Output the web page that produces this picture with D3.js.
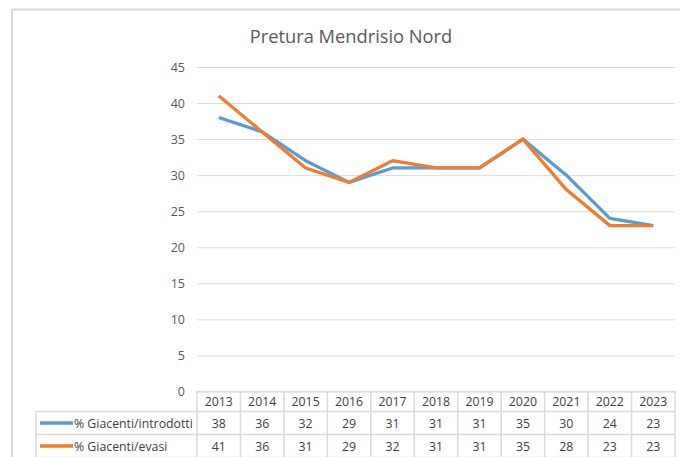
<!DOCTYPE html>
<html>
<head>
<meta charset="utf-8">
<script src="https://cdn.jsdelivr.net/npm/d3@7"></script>
<style>
  body { margin: 0; background: #fff; }
  svg { display: block; font-family: "Open Sans", sans-serif; }
</style>
</head>
<body>
<div id="chart"></div>
<script>
var years = [2013, 2014, 2015, 2016, 2017, 2018, 2019, 2020, 2021, 2022, 2023];
var introdotti = [38, 36, 32, 29, 31, 31, 31, 35, 30, 24, 23];
var evasi = [41, 36, 31, 29, 32, 31, 31, 35, 28, 23, 23];
var yTicks = [0, 5, 10, 15, 20, 25, 30, 35, 40, 45];

var series = [
  {name: "% Giacenti/introdotti", values: introdotti, color: "#5b9bd5"},
  {name: "% Giacenti/evasi", values: evasi, color: "#ed7d31"}
];

var width = 680, height = 457;
var plotLeft = 197, plotRight = 675, plotTop = 67, plotBottom = 391.5;
var rowH = [20, 23, 23];

var svg = d3.select("#chart").append("svg")
    .attr("width", width)
    .attr("height", height);

// chart frame (right and bottom edges fall outside the picture)
svg.append("rect")
  .attr("x", 12).attr("y", 9.5)
  .attr("width", 800).attr("height", 600)
  .attr("fill", "#fff")
  .attr("stroke", "#d9d9d9")
  .attr("stroke-width", 2);

svg.append("text")
  .attr("x", 351).attr("y", 43)
  .attr("text-anchor", "middle")
  .attr("fill", "#595959")
  .style("font-size", "18.3px")
  .text("Pretura Mendrisio Nord");

var x = d3.scaleBand().domain(years).range([plotLeft, plotRight]).padding(0);
var y = d3.scaleLinear().domain([0, 45]).range([plotBottom, plotTop]);

var yAxis = d3.axisLeft(y).tickValues(yTicks).tickSize(-(plotRight - plotLeft)).tickPadding(12);

var gy = svg.append("g")
  .attr("transform", "translate(" + plotLeft + ",0)")
  .call(yAxis);
gy.select(".domain").remove();
gy.selectAll(".tick line").attr("stroke", "#d9d9d9").attr("stroke-width", 1);
gy.selectAll(".tick text")
  .attr("fill", "#595959")
  .style("font-size", "12.5px")
  .style("font-family", "Open Sans, sans-serif");

var line = d3.line()
  .x(function(d, i) { return x(years[i]) + x.bandwidth() / 2; })
  .y(function(d) { return y(d); });

svg.selectAll(".series")
  .data(series)
  .enter().append("path")
  .attr("class", "series")
  .attr("d", function(d) { return line(d.values); })
  .attr("fill", "none")
  .attr("stroke", function(d) { return d.color; })
  .attr("stroke-width", 3.3)
  .attr("stroke-linejoin", "round");

// data table under the plot
var tbl = svg.append("g").attr("class", "table");
var gridColor = "#d9d9d9";
var textColor = "#404040";
var top0 = plotBottom, top1 = top0 + rowH[0], top2 = top1 + rowH[1], top3 = top2 + rowH[2];
var legLeft = 36;

// horizontal lines
tbl.append("line").attr("x1", plotLeft).attr("x2", plotRight).attr("y1", top0).attr("y2", top0);
[top1, top2, top3].forEach(function(t) {
  tbl.append("line").attr("x1", legLeft).attr("x2", plotRight).attr("y1", t).attr("y2", t);
});
// vertical lines
tbl.append("line").attr("x1", legLeft).attr("x2", legLeft).attr("y1", top1).attr("y2", top3);
years.forEach(function(yr) {
  tbl.append("line").attr("x1", x(yr)).attr("x2", x(yr)).attr("y1", top0).attr("y2", top3);
});
tbl.append("line").attr("x1", plotRight).attr("x2", plotRight).attr("y1", top0).attr("y2", top3);
tbl.selectAll("line").attr("stroke", gridColor).attr("stroke-width", 1.5);

tbl.selectAll(".yr")
  .data(years)
  .enter().append("text")
  .attr("class", "yr")
  .attr("x", function(d) { return x(d) + x.bandwidth() / 2; })
  .attr("y", (top0 + top1) / 2 + 4.5)
  .attr("text-anchor", "middle")
  .text(function(d) { return d; });

series.forEach(function(s, si) {
  var rTop = si === 0 ? top1 : top2;
  var rMid = rTop + rowH[si + 1] / 2;
  tbl.append("line")
    .attr("x1", 40).attr("x2", 73)
    .attr("y1", rMid).attr("y2", rMid)
    .attr("stroke", s.color).attr("stroke-width", 3.3);
  tbl.append("text")
    .attr("x", 74).attr("y", rMid + 4.5)
    .text(s.name);
  tbl.selectAll(".v" + si)
    .data(s.values)
    .enter().append("text")
    .attr("class", "v" + si)
    .attr("x", function(d, i) { return x(years[i]) + x.bandwidth() / 2; })
    .attr("y", rMid + 4.5)
    .attr("text-anchor", "middle")
    .text(function(d) { return d; });
});
tbl.selectAll("text").attr("fill", textColor).style("font-size", "12.3px");
</script>
</body>
</html>
